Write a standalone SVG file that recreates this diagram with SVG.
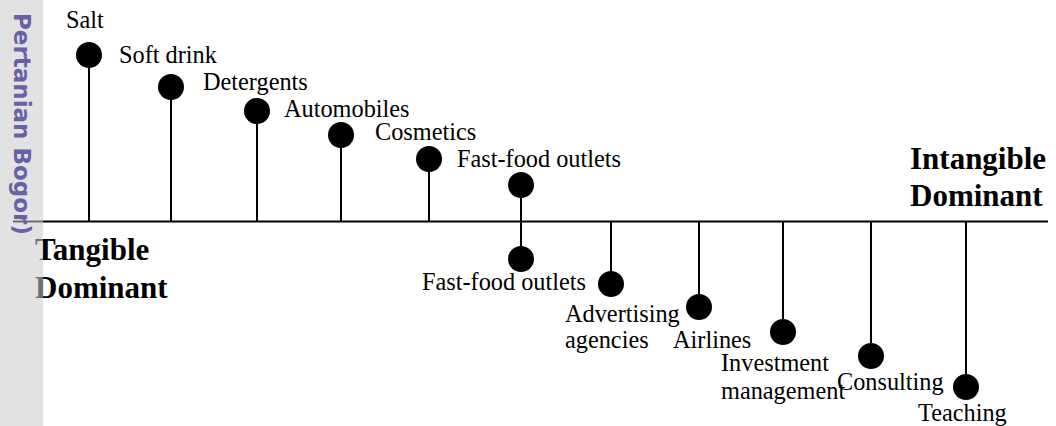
<svg xmlns="http://www.w3.org/2000/svg" width="1056" height="426" viewBox="0 0 1056 426">
<style>
.lbl{font-family:"Liberation Serif","Times New Roman",serif;font-size:24.3px;fill:#000}
.big{font-family:"Liberation Serif","Times New Roman",serif;font-size:31px;font-weight:bold;fill:#000}
.dot{fill:#000}
.stem{stroke:#000;stroke-width:2;fill:none}
.wm{font-family:"DejaVu Sans",Verdana,sans-serif;font-size:23px;font-weight:bold;fill:#6a60a8}
</style>
<rect width="1056" height="426" fill="#fff"/>
<g id="axis"><line x1="13" y1="221.5" x2="1048" y2="221.5" stroke="#000" stroke-width="2"/></g>
<g id="connectors">
<line class="stem" x1="89" y1="55" x2="89" y2="221"/>
<line class="stem" x1="171" y1="87" x2="171" y2="221"/>
<line class="stem" x1="257" y1="111" x2="257" y2="221"/>
<line class="stem" x1="341" y1="135" x2="341" y2="221"/>
<line class="stem" x1="429" y1="159" x2="429" y2="221"/>
<line class="stem" x1="521" y1="185" x2="521" y2="259"/>
<line class="stem" x1="611" y1="221" x2="611" y2="284"/>
<line class="stem" x1="699" y1="221" x2="699" y2="307"/>
<line class="stem" x1="783" y1="221" x2="783" y2="332"/>
<line class="stem" x1="871" y1="221" x2="871" y2="356"/>
<line class="stem" x1="966" y1="221" x2="966" y2="387"/>
</g>
<g id="salt"><circle class="dot" cx="89" cy="55" r="13"/><text class="lbl" x="66" y="28">Salt</text></g>
<g id="softdrink"><circle class="dot" cx="171" cy="87" r="13"/><text class="lbl" x="119" y="63">Soft drink</text></g>
<g id="detergents"><circle class="dot" cx="257" cy="111" r="13"/><text class="lbl" x="203" y="90">Detergents</text></g>
<g id="automobiles"><circle class="dot" cx="341" cy="135" r="13"/><text class="lbl" x="284" y="117">Automobiles</text></g>
<g id="cosmetics"><circle class="dot" cx="429" cy="159" r="13"/><text class="lbl" x="375" y="140">Cosmetics</text></g>
<g id="fastfood-top"><circle class="dot" cx="521" cy="185" r="13"/><text class="lbl" x="457" y="167">Fast-food outlets</text></g>
<g id="fastfood-bottom"><circle class="dot" cx="521" cy="259" r="13"/><text class="lbl" x="422" y="290">Fast-food outlets</text></g>
<g id="advertising"><circle class="dot" cx="611" cy="284" r="13"/><text class="lbl" x="565" y="322">Advertising</text><text class="lbl" x="565" y="348">agencies</text></g>
<g id="airlines"><circle class="dot" cx="699" cy="307" r="13"/><text class="lbl" x="673" y="348">Airlines</text></g>
<g id="investment"><circle class="dot" cx="783" cy="332" r="13"/><text class="lbl" x="721" y="371">Investment</text><text class="lbl" x="721" y="399">management</text></g>
<g id="consulting"><circle class="dot" cx="871" cy="356" r="13"/><text class="lbl" x="837" y="390">Consulting</text></g>
<g id="teaching"><circle class="dot" cx="966" cy="387" r="13"/><text class="lbl" x="918" y="421">Teaching</text></g>
<g id="tangible"><text class="big" x="35" y="260">Tangible</text><text class="big" x="35" y="298">Dominant</text></g>
<g id="intangible"><text class="big" x="910" y="169">Intangible</text><text class="big" x="910" y="206">Dominant</text></g>
<g id="watermark">
<rect x="0" y="0" width="43" height="426" fill="#cacaca" fill-opacity="0.55"/>
<text class="wm" transform="translate(14,13) rotate(90)">Pertanian Bogor)</text>
</g>
</svg>
